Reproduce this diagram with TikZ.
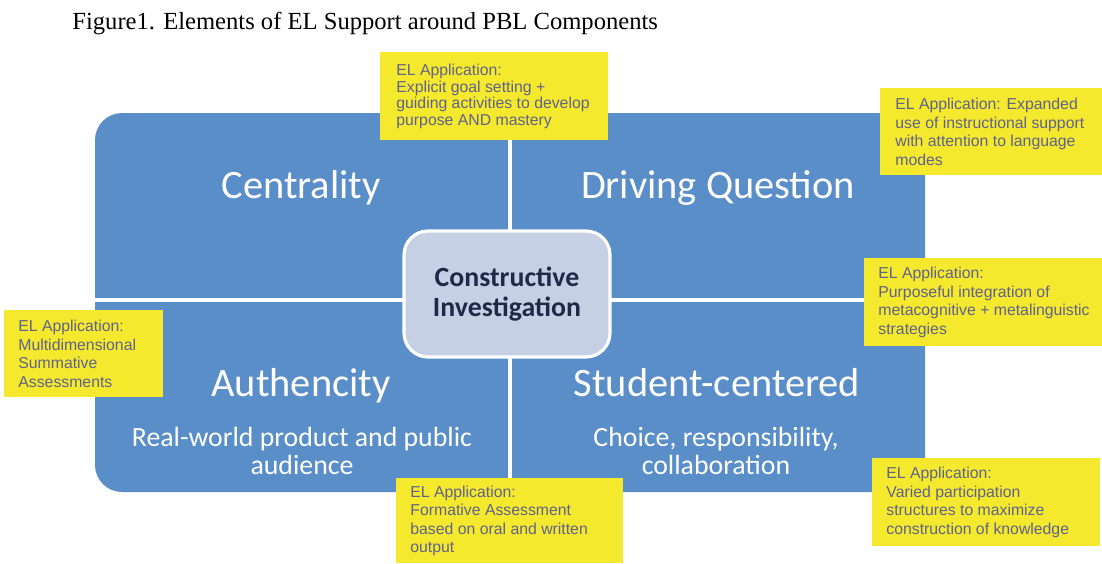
\documentclass[tikz,border=0pt]{standalone}
\usepackage{fontspec}
\setmainfont{Liberation Serif}
\setsansfont{Liberation Sans}
\newfontfamily\calibri{Carlito}

\definecolor{pblblue}{RGB}{90,142,200}
\definecolor{coreface}{RGB}{198,208,228}
\definecolor{coretext}{RGB}{31,42,72}
\definecolor{elyellow}{RGB}{245,233,46}
\definecolor{eltext}{RGB}{95,98,140}

\tikzset{
  elbox/.style={fill=elyellow, anchor=north west, inner sep=0pt},
  eltext/.style={anchor=west, inner sep=0pt, align=left, text=eltext,
    font=\sffamily\fontsize{7.9}{9.2}\selectfont},
  quadtitle/.style={anchor=base, text=white, font=\calibri\fontsize{20.2}{24}\selectfont},
  quadsub/.style={align=center, text=white, font=\calibri\fontsize{13.9}{14}\selectfont},
}

\begin{document}
\begin{tikzpicture}[x=0.5pt,y=-0.5pt]

        % Размеры (в пикселях)
        \def\Lx{95}   % левый край
        \def\Rx{925}  % правый край
        \def\Ty{113}  % верх
        \def\By{492}  % низ
        \def\Mx{510}  % вертикальный разделитель
        \def\My{300}  % горизонтальный разделитель

        \useasboundingbox (0,0) rectangle (1102,563);

        % Заголовок
        \node (title) [anchor=base west, inner sep=0pt, font=\fontsize{12.3}{14}\selectfont] at (72,29)
            {Figure1. Elements of EL Support around PBL Components};

        % Синий блок
        \fill[pblblue, rounded corners=13.5pt] (\Lx,\Ty) rectangle (\Rx,\By);

        % Разделители
        \draw[white, line width=2pt] (\Mx,\Ty) -- (\Mx,\By);
        \draw[white, line width=2pt] (\Lx,\My) -- (\Rx,\My);

        % Центр
        \node (core) [fill=coreface, draw=white, line width=1.6pt, rounded corners=12pt,
            minimum width=103pt, minimum height=63pt, align=center, text=coretext,
            font=\calibri\bfseries\fontsize{13.9}{15}\selectfont] at (507,294)
            {Constructive\\Investigation};

        % Компоненты PBL
        \node (centrality) [quadtitle] at (301,198) {Centrality};
        \node (driving) [quadtitle] at (718,198) {Driving Question};
        \node (authencity) [quadtitle] at (301,396) {Authencity};
        \node (student) [quadtitle] at (717,396) {Student-centered};

        \node (authsub) [quadsub] at (302,451) {Real-world product and public\\audience};
        \node (studsub) [quadsub] at (716,451) {Choice, responsibility,\\collaboration};

        % EL Application
        \node (elgoal) [elbox, minimum width=114pt, minimum height=44pt] at (380,52) {};
        \node (elgoaltext) [eltext, font=\sffamily\fontsize{7.9}{8.2}\selectfont]
            at ([xshift=8pt]elgoal.west)
            {EL Application:\\Explicit goal setting +\\guiding activities to develop\\purpose AND mastery};

        \node (elsupport) [elbox, minimum width=111pt, minimum height=43.5pt] at (880,88) {};
        \node (elsupporttext) [eltext] at ([xshift=7.5pt]elsupport.west)
            {EL Application: Expanded\\use of instructional support\\with attention to language\\modes};

        \node (elmeta) [elbox, minimum width=119pt, minimum height=44pt] at (864,258) {};
        \node (elmetatext) [eltext] at ([xshift=7pt]elmeta.west)
            {EL Application:\\Purposeful integration of\\metacognitive + metalinguistic\\strategies};

        \node (elsumm) [elbox, minimum width=79.5pt, minimum height=43.5pt] at (4,310) {};
        \node (elsummtext) [eltext] at ([xshift=7pt]elsumm.west)
            {EL Application:\\Multidimensional\\Summative\\Assessments};

        \node (elform) [elbox, minimum width=113.5pt, minimum height=42.5pt] at (396,478) {};
        \node (elformtext) [eltext] at ([xshift=7pt]elform.west)
            {EL Application:\\Formative Assessment\\based on oral and written\\output};

        \node (elvaried) [elbox, minimum width=114pt, minimum height=44pt] at (872,458) {};
        \node (elvariedtext) [eltext] at ([xshift=7pt]elvaried.west)
            {EL Application:\\Varied participation\\structures to maximize\\construction of knowledge};

\end{tikzpicture}
\end{document}
